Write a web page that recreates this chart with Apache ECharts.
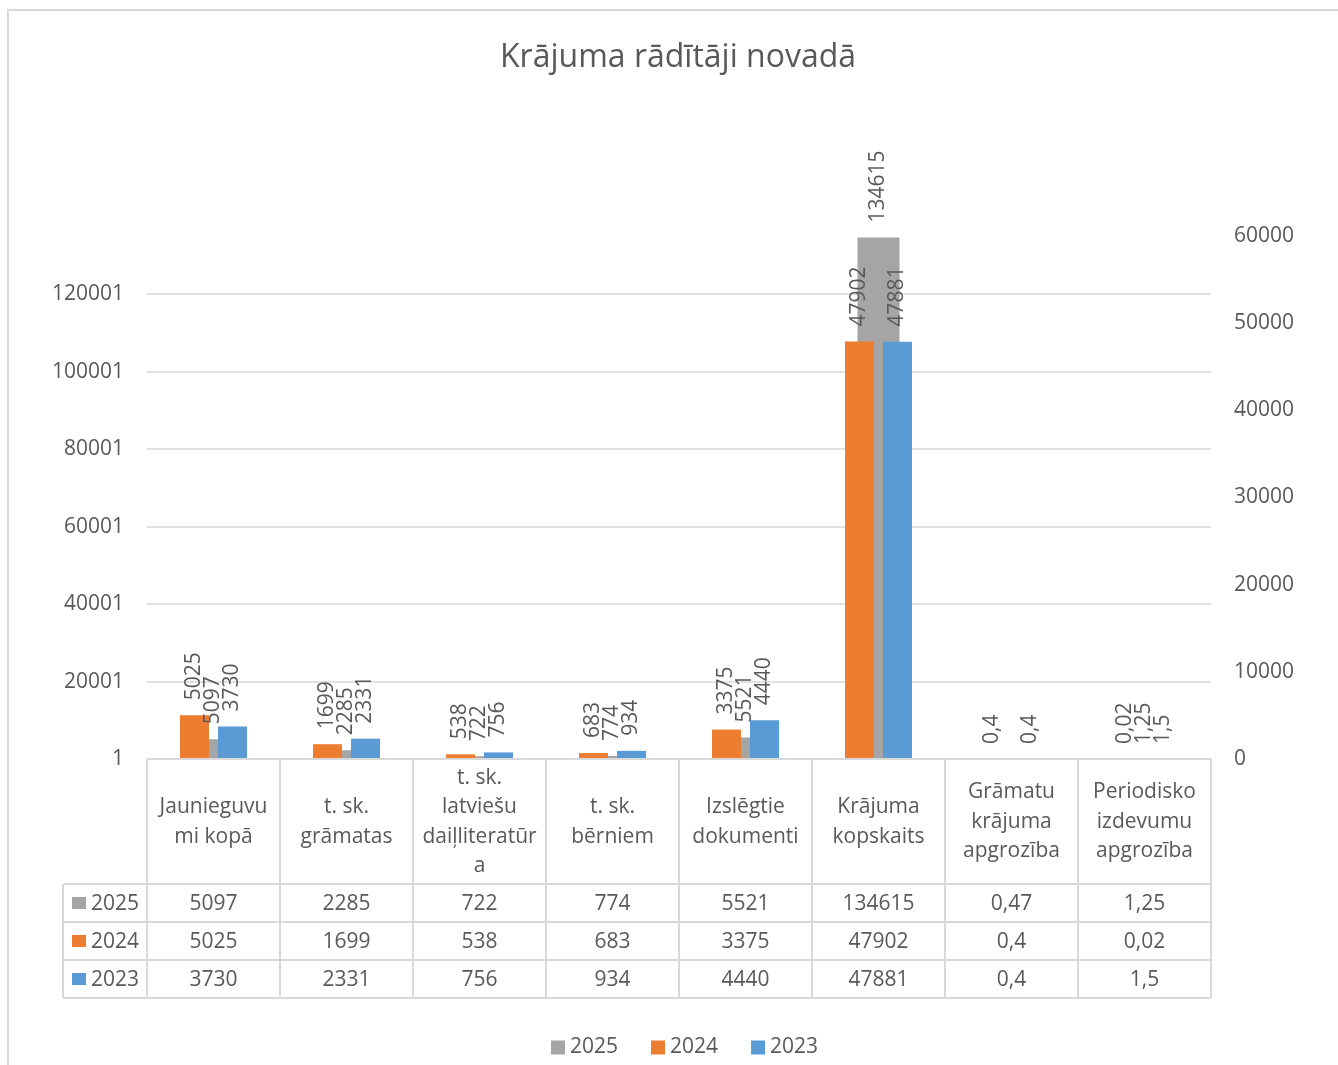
<!DOCTYPE html>
<html><head><meta charset="utf-8">
<script src="https://cdn.jsdelivr.net/npm/echarts@6/dist/echarts.min.js"></script>
<style>html,body{margin:0;padding:0;background:#fff}#c{width:1338px;height:1065px}</style>
</head><body><div id="c"></div>
<script>
// ---- data ----
const titleText = "Krājuma rādītāji novadā";
const categories = ["Jaunieguvu\nmi kopā", "t. sk.\ngrāmatas", "t. sk.\nlatviešu\ndaiļliteratūr\na", "t. sk.\nbērniem", "Izslēgtie\ndokumenti", "Krājuma\nkopskaits", "Grāmatu\nkrājuma\napgrozība", "Periodisko\nizdevumu\napgrozība"];
const seriesNames = ["2025", "2024", "2023"];
const v2025 = [5097, 2285, 722, 774, 5521, 134615, 0.47, 1.25];
const v2024 = [5025, 1699, 538, 683, 3375, 47902, 0.4, 0.02];
const v2023 = [3730, 2331, 756, 934, 4440, 47881, 0.4, 1.5];
const leftAxis = {min: 1, max: 135001, interval: 20000};
const rightAxis = {min: 0, max: 60000, interval: 10000};
const hiddenLabel2025 = [6]; // label not shown in the reference

// ---- style ----
const FONT = 'Open Sans';
const FS = 21;
const TXT = '#595959';
const LINE = '#d9d9d9';
const colors = ['#A5A5A5', '#ED7D31', '#5B9BD5'];
const fmt = v => String(v).replace('.', ',');

const chart = echarts.init(document.getElementById('c'));

const barLabel = {
  show: true, position: 'top', rotate: 90, align: 'left', verticalAlign: 'middle',
  distance: 15, fontSize: FS, color: TXT, fontFamily: FONT,
  formatter: p => fmt(p.value)
};

chart.setOption({
  animation: false,
  textStyle: {fontFamily: FONT},
  color: colors,
  title: {text: titleText, left: 495, top: 37,
    textStyle: {fontSize: 32, fontWeight: 'normal', color: TXT, fontFamily: FONT}},
  legend: {top: 1032, left: 546, itemWidth: 14, itemHeight: 14, itemGap: 33, icon: 'rect',
    textStyle: {fontSize: FS, color: TXT, fontFamily: FONT}, data: seriesNames},
  grid: {left: 147, right: 127, top: 236, bottom: 306},
  xAxis: [
    {type: 'category', data: categories, axisLine: {show: false}, axisTick: {show: false},
     axisLabel: {interval: 0, margin: 63, verticalAlign: 'middle', fontSize: FS, lineHeight: 29.5, color: TXT, fontFamily: FONT},
     splitLine: {show: false}},
    {type: 'category', data: categories, show: false}
  ],
  yAxis: [
    {type: 'value', min: leftAxis.min, max: leftAxis.max, interval: leftAxis.interval, position: 'left',
     axisLabel: {showMaxLabel: false, margin: 23, fontSize: FS, color: TXT, fontFamily: FONT, formatter: v => String(v)},
     splitLine: {show: true, showMaxLine: false, lineStyle: {color: LINE, width: 1.5}},
     axisLine: {show: false}, axisTick: {show: false}},
    {type: 'value', min: rightAxis.min, max: rightAxis.max, interval: rightAxis.interval, position: 'right',
     axisLabel: {margin: 23, fontSize: FS, color: TXT, fontFamily: FONT, formatter: v => String(v)},
     splitLine: {show: false}, axisLine: {show: false}, axisTick: {show: false}}
  ],
  series: [
    {name: seriesNames[0], type: 'bar', xAxisIndex: 0, yAxisIndex: 0, barWidth: 42,
     data: v2025.map((v, i) => hiddenLabel2025.includes(i) ? {value: v, label: {show: false}} : v),
     itemStyle: {color: colors[0]}, label: barLabel},
    {name: seriesNames[1], type: 'bar', xAxisIndex: 1, yAxisIndex: 1, barWidth: 29, barGap: '31%',
     data: v2024, itemStyle: {color: colors[1]}, label: barLabel},
    {name: seriesNames[2], type: 'bar', xAxisIndex: 1, yAxisIndex: 1, barWidth: 29, barGap: '31%',
     data: v2023, itemStyle: {color: colors[2]}, label: barLabel}
  ]
});

// ---- data table below the plot, positioned from the axes ----
const c0 = chart.convertToPixel({xAxisIndex: 0}, 0);
const c1 = chart.convertToPixel({xAxisIndex: 0}, 1);
const cw = c1 - c0;
const x0 = c0 - cw / 2;
const n = categories.length;
const x1 = x0 + cw * n;
const yBase = chart.convertToPixel({yAxisIndex: 1}, 0);
const headerH = 125, rowH = 38, keyW = 84;
const xk = x0 - keyW;
const g = [];
const line = (ax, ay, bx, by) => g.push({type: 'line', silent: true, z: 10,
  shape: {x1: ax, y1: ay, x2: bx, y2: by}, style: {stroke: LINE, lineWidth: 2}});
line(x0, yBase, x1, yBase);
for (let r = 0; r <= 3; r++) line(xk, yBase + headerH + r * rowH, x1, yBase + headerH + r * rowH);
for (let i = 0; i <= n; i++) line(x0 + i * cw, yBase, x0 + i * cw, yBase + headerH + 3 * rowH);
line(xk, yBase + headerH, xk, yBase + headerH + 3 * rowH);
const rows = [v2025, v2024, v2023];
const font = FS + 'px "' + FONT + '"';
rows.forEach((vals, r) => {
  const yc = yBase + headerH + r * rowH + rowH / 2;
  g.push({type: 'rect', silent: true, shape: {x: xk + 9, y: yc - 6, width: 14, height: 12}, style: {fill: colors[r]}});
  g.push({type: 'text', silent: true, x: xk + 28, y: yc + 1,
    style: {text: seriesNames[r], fill: TXT, font: font, textAlign: 'left', textVerticalAlign: 'middle'}});
  vals.forEach((v, i) => {
    g.push({type: 'text', silent: true, x: x0 + i * cw + cw / 2, y: yc + 1,
      style: {text: fmt(v), fill: TXT, font: font, textAlign: 'center', textVerticalAlign: 'middle'}});
  });
});
// outer chart border
g.push({type: 'rect', silent: true, shape: {x: 8, y: 10, width: 1340, height: 1070},
  style: {fill: 'none', stroke: LINE, lineWidth: 2}});
chart.setOption({graphic: g});
</script></body></html>
